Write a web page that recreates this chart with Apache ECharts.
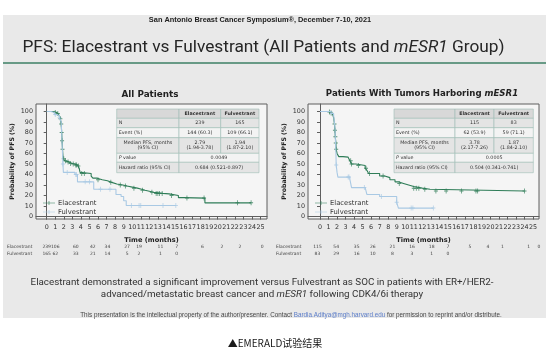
<!DOCTYPE html>
<html><head><meta charset="utf-8">
<script src="https://cdn.jsdelivr.net/npm/echarts@6/dist/echarts.min.js"></script>
<style>html,body{margin:0;padding:0;background:#fff;}#c{width:549px;height:357px;}</style>
</head><body><div id="c"></div>
<script>
// ---------- data ----------
const monthTicks = [0,1,2,3,4,5,6,7,8,9,10,11,12,13,14,15,16,17,18,19,20,21,22,23,24,25];
const pctTicks = [0,10,20,30,40,50,60,70,80,90,100];
const armNames = ['Elacestrant','Fulvestrant'];

// Kaplan-Meier steps [month, % progression-free]
const allEla = [[0,100],[0.8,99.5],[1.0,99],[1.2,98],[1.4,97],[1.5,95],[1.6,93],[1.7,88],[1.75,80],[1.8,72],[1.85,64],[1.9,58],[1.95,55],[2.1,53],[2.3,52],[2.6,50.5],[3.0,50],[3.3,49],[3.6,48],[3.8,46],[3.9,42],[4.0,41],[5.2,38.5],[5.4,36.5],[5.9,35],[6.5,34],[7.1,32.5],[7.6,31],[8.2,30],[8.9,29],[9.4,28],[10.0,27],[10.6,26],[11.1,25],[11.5,24],[12.0,23],[12.5,22],[13.6,21.5],[14.3,20],[15.4,18],[16.0,17.5],[18.5,13],[23.9,13]];
const allFul = [[0,100],[0.5,99],[0.9,97],[1.2,96],[1.5,94],[1.7,90],[1.8,70],[1.9,50],[1.95,42],[3.3,40],[3.6,33],[5.5,26],[8.1,21],[8.7,19],[9.0,15],[9.3,10.5],[15.1,10.5]];
const mutEla = [[0,100],[1.0,99.5],[1.3,98.5],[1.5,97],[1.6,94],[1.7,88],[1.75,82],[1.8,76],[1.85,70],[1.9,64],[2.0,60],[2.2,57],[2.7,56.5],[3.3,55.5],[3.5,53],[3.7,50],[4.2,48.5],[5.3,46],[5.5,44],[5.7,41],[7.0,38.5],[7.6,37],[8.2,35],[8.8,33],[9.2,31.5],[9.8,30],[10.4,28.5],[11.0,27],[12.0,26],[12.9,24.3],[24.0,24.3]];
const mutFul = [[0,100],[1.3,98],[1.6,96],[1.75,85],[1.85,65],[1.9,49],[2.0,42],[2.1,37.5],[3.5,35.5],[3.7,27.5],[5.3,26.5],[5.5,21],[7.0,19],[9.0,13.5],[9.2,8],[13.3,8]];

// censoring times (months)
const allElaCens = [1.0,1.3,1.6,1.7,1.75,1.8,1.85,2.0,2.2,2.5,2.8,3.1,3.4,3.5,3.7,4.1,4.4,6.0,7.5,8.6,9.2,10.2,11.2,12.3,12.8,13.0,13.2,13.5,14.6,16.4,18.4,22.3,23.9];
const allFulCens = [1.0,1.5,1.9,2.4,3.5,3.4,4.5,5.0,6.3,7.4,9.9,10.8,11.0,13.6,15.1];
const mutElaCens = [1.1,1.3,1.7,1.75,1.8,1.85,1.9,3.6,3.7,4.5,5.4,5.8,7.4,9.3,11.0,11.3,11.6,12.3,13.6,14.8,16.6,18.3,18.5,24.0];
const mutFulCens = [1.4,1.9,3.3,3.4,5.2,7.2,9.0,10.7,10.9,13.3];

// numbers at risk
const allRiskAt = [0,1,3.4,5.4,7.1,9.4,10.8,13.3,15.2,18.2,20.5,22.6,25.2];
const allRiskEla = [239,106,60,42,34,27,19,11,7,6,2,2,0];
const allRiskFul = [165,62,33,21,14,5,2,1,0];
const mutRiskAt = [-0.3,1.9,4.3,6.2,8.5,10.8,13.1,15.0,17.6,19.7,21.4,24.5,25.7];
const mutRiskEla = [115,54,35,26,21,16,18,7,5,4,1,1,0];
const mutRiskFul = [83,29,16,10,8,3,1,0];

// summary tables
const tableHead = ['', 'Elacestrant', 'Fulvestrant'];
const tableRowLabels = ['N', 'Event (%)', 'Median PFS, months\n(95% CI)', 'P value', 'Hazard ratio (95% CI)'];
const allTable = [['239','165'],['144 (60.3)','109 (66.1)'],['2.79\n(1.94-3.78)','1.94\n(1.87-2.10)'],['0.0049'],['0.684 (0.521-0.897)']];
const mutTable = [['115','83'],['62 (53.9)','59 (71.1)'],['3.78\n(2.17-7.26)','1.87\n(1.84-2.10)'],['0.0005'],['0.504 (0.341-0.741)']];

// ---------- styling ----------
const GREEN = '#2f7d58';
const BLUE = '#a9c9e4';
const AX = '#5f5f5f';
const FONT = 'DejaVu Sans';

const chart = echarts.init(document.getElementById('c'), null, {renderer: 'canvas'});

function survAt(steps, t) {
  let s = steps[0][1];
  for (const p of steps) { if (p[0] <= t) s = p[1]; }
  return s;
}
const plusPath = 'path://M4,0H6V10H4Z M0,4H10V6H0Z';
const legIcon = 'path://M0,4.4H24V5.6H0Z M11.4,1H12.6V9H11.4Z';

function gridOpts(left) {
  return {left: left, top: 104, width: 231, height: 115, show: true,
    backgroundColor: '#f5f5f5', borderColor: AX, borderWidth: 1, containLabel: false};
}
function xAxisOpts(gi, min, max) {
  return {type: 'value', gridIndex: gi, min: min, max: max,
    axisLine: {show: true, lineStyle: {color: AX}},
    axisTick: {show: true, inside: false, length: 3, lineStyle: {color: AX}, customValues: monthTicks},
    axisLabel: {customValues: monthTicks, fontSize: 6.4, fontFamily: FONT, color: '#333', margin: 5},
    splitLine: {show: false},
    name: 'Time (months)', nameLocation: 'middle', nameGap: 17.5,
    nameTextStyle: {fontSize: 6.6, fontWeight: 'bold', fontFamily: FONT, color: '#222'}};
}
function yAxisOpts(gi) {
  return {type: 'value', gridIndex: gi, min: -2.38, max: 107.1,
    axisLine: {show: true, lineStyle: {color: AX}},
    axisTick: {show: true, inside: false, length: 3, lineStyle: {color: AX}, customValues: pctTicks},
    axisLabel: {customValues: pctTicks, fontSize: 6.4, fontFamily: FONT, color: '#333', margin: 3},
    splitLine: {show: false},
    name: 'Probability of PFS (%)', nameLocation: 'middle', nameGap: 21, nameRotate: 90,
    nameTextStyle: {fontSize: 6.2, fontWeight: 'bold', fontFamily: FONT, color: '#222'}};
}
function kmSeries(name, steps, color, gi) {
  return {type: 'line', name: name, xAxisIndex: gi, yAxisIndex: gi, data: steps, step: 'end',
    showSymbol: false, symbol: 'none', lineStyle: {color: color, width: 1.1},
    itemStyle: {color: color}, animation: false, silent: true};
}
function censSeries(name, steps, times, color, gi) {
  return {type: 'scatter', name: name + ' censored', xAxisIndex: gi, yAxisIndex: gi,
    data: times.map(t => [t, survAt(steps, t)]), symbol: plusPath, symbolSize: [4, 5],
    itemStyle: {color: color}, animation: false, silent: true};
}
function legendOpts(left) {
  return {orient: 'vertical', left: left, top: 194.5, itemGap: 2, itemWidth: 12, itemHeight: 7,
    icon: legIcon, data: armNames, selectedMode: false,
    textStyle: {fontSize: 6.8, fontFamily: FONT, color: '#333', padding: [0,0,0,-2]}};
}

const option = {
  animation: false,
  backgroundColor: '#ffffff',
  grid: [gridOpts(36), gridOpts(308)],
  xAxis: [xAxisOpts(0, -1.25, 25.76), xAxisOpts(1, -1.41, 25.7)],
  yAxis: [yAxisOpts(0), yAxisOpts(1)],
  legend: [legendOpts(38), legendOpts(310)],
  series: [
    kmSeries('Elacestrant', allEla, GREEN, 0),
    kmSeries('Fulvestrant', allFul, BLUE, 0),
    censSeries('Elacestrant', allEla, allElaCens, GREEN, 0),
    censSeries('Fulvestrant', allFul, allFulCens, BLUE, 0),
    kmSeries('Elacestrant', mutEla, GREEN, 1),
    kmSeries('Fulvestrant', mutFul, BLUE, 1),
    censSeries('Elacestrant', mutEla, mutElaCens, GREEN, 1),
    censSeries('Fulvestrant', mutFul, mutFulCens, BLUE, 1)
  ]
};
chart.setOption(option);

// ---------- slide decorations ----------
const g = [];
g.push({type: 'rect', z: -10, shape: {x: 3, y: 15, width: 543, height: 303}, style: {fill: '#e9e9e9'}});
g.push({type: 'text', x: 260, y: 20, style: {text: 'San Antonio Breast Cancer Symposium®, December 7-10, 2021',
  font: 'bold 7.4px "Liberation Sans"', fill: '#222', align: 'center', verticalAlign: 'middle'}});
g.push({type: 'text', x: 263.5, y: 48, style: {text: 'PFS: Elacestrant vs Fulvestrant (All Patients and {i|mESR1} Group)',
  font: '17.3px Roboto', fill: '#262626', align: 'center', verticalAlign: 'middle',
  rich: {i: {font: 'italic 17.3px Roboto', fill: '#262626'}}}});
g.push({type: 'rect', shape: {x: 3, y: 62.3, width: 543, height: 1.4}, style: {fill: '#3d7f64'}});
g.push({type: 'text', x: 150, y: 95, style: {text: 'All Patients', font: 'bold 8.8px "DejaVu Sans"', fill: '#222', align: 'center', verticalAlign: 'middle'}});
g.push({type: 'text', x: 422, y: 94, style: {text: 'Patients With Tumors Harboring {i|mESR1}', font: 'bold 8.6px "DejaVu Sans"', fill: '#222', align: 'center', verticalAlign: 'middle',
  rich: {i: {font: 'italic bold 8.6px "DejaVu Sans"', fill: '#222'}}}});
g.push({type: 'text', x: 262, y: 283, style: {text: 'Elacestrant demonstrated a significant improvement versus Fulvestrant as SOC in patients with ER+/HER2-',
  font: '9.8px Roboto', fill: '#333', align: 'center', verticalAlign: 'middle'}});
g.push({type: 'text', x: 262, y: 294.5, style: {text: 'advanced/metastatic breast cancer and {i|mESR1} following CDK4/6i therapy',
  font: '9.8px Roboto', fill: '#333', align: 'center', verticalAlign: 'middle', rich: {i: {font: 'italic 9.8px Roboto', fill: '#333'}}}});
g.push({type: 'text', x: 291, y: 315.5, style: {text: 'This presentation is the intellectual property of the author/presenter. Contact {u|Bardia.Aditya@mgh.harvard.edu} for permission to reprint and/or distribute.',
  font: '6.3px "Liberation Sans"', fill: '#444', align: 'center', verticalAlign: 'middle', rich: {u: {font: '6.3px "Liberation Sans"', fill: '#5a7cc8'}}}});
g.push({type: 'text', x: 275, y: 343, style: {text: '▲EMERALD试验结果', font: '10px "Noto Sans CJK SC"', fill: '#1a1a1a', align: 'center', verticalAlign: 'middle'}});

// tables
function addTable(x0, y0, colW, rowH, vals) {
  const fills = ['#d8d8d8', '#e4e4e4', '#f3f3f3', '#e4e4e4', '#f3f3f3', '#e4e4e4'];
  let y = y0;
  const rows = [tableHead].concat(vals.map((v, i) => [tableRowLabels[i]].concat(v)));
  rows.forEach((row, ri) => {
    const h = rowH[ri];
    let x = x0;
    const cells = row.length === 2 ? [[row[0], colW[0]], [row[1], colW[1] + colW[2]]] : row.map((t, ci) => [t, colW[ci]]);
    cells.forEach((c, ci) => {
      g.push({type: 'rect', shape: {x: x, y: y, width: c[1], height: h},
        style: {fill: fills[ri], stroke: '#9ebdb6', lineWidth: 0.6}});
      let txt = c[0];
      const isLabel = ci === 0 && ri > 0;
      const center = !isLabel || ri === 3;
      let rich = {};
      if (ri === 4 && ci === 0) { txt = '{i|P} value'; rich = {i: {font: 'italic 4.8px "DejaVu Sans"', fill: '#333'}}; }
      g.push({type: 'text', x: center ? x + c[1] / 2 : x + 2, y: y + h / 2,
        style: {text: txt, font: (ri === 0 ? 'bold ' : '') + '4.8px "DejaVu Sans"', fill: '#333',
          align: center ? 'center' : 'left', verticalAlign: 'middle', lineHeight: 5.4, rich: rich}});
      x += c[1];
    });
    y += h;
  });
}
addTable(116.7, 109, [62.3, 41.7, 38.3], [9.3, 9.4, 10, 15.6, 9, 10.4], allTable);
addTable(394, 109, [61, 39, 39.3], [9.3, 9.4, 10, 15.6, 9, 10.4], mutTable);

// numbers at risk (x from the library's axis scale)
function addRisk(gi, labelX, at, ela, ful) {
  const rowY = [247, 254];
  [['Elacestrant', ela], ['Fulvestrant', ful]].forEach((r, k) => {
    g.push({type: 'text', x: labelX, y: rowY[k], style: {text: r[0], font: '4.5px "DejaVu Sans"', fill: '#444', align: 'left', verticalAlign: 'middle'}});
    r[1].forEach((n, i) => {
      const px = chart.convertToPixel({xAxisIndex: gi}, at[i]);
      g.push({type: 'text', x: px, y: rowY[k], style: {text: String(n), font: '4.5px "DejaVu Sans"', fill: '#444', align: 'center', verticalAlign: 'middle'}});
    });
  });
}
addRisk(0, 7, allRiskAt, allRiskEla, allRiskFul);
addRisk(1, 276, mutRiskAt, mutRiskEla, mutRiskFul);

chart.setOption({graphic: {elements: g}});
</script></body></html>
